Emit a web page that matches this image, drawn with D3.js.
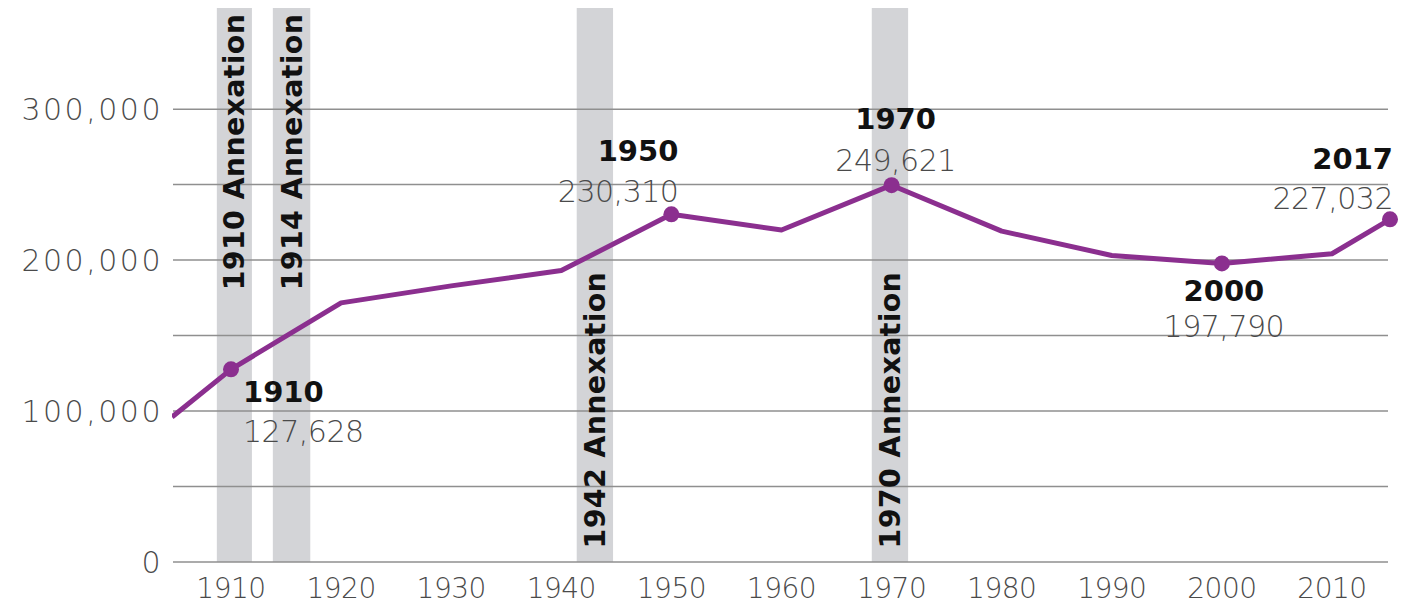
<!DOCTYPE html>
<html>
<head>
<meta charset="utf-8">
<script src="https://cdn.jsdelivr.net/npm/d3@7"></script>
<style>
  html, body { margin: 0; padding: 0; background: #fff; }
  svg { display: block; }
</style>
</head>
<body>
<div id="chart"></div>
<script>
// population by census year (last one is the 2017 estimate)
const years = [1900, 1910, 1920, 1930, 1940, 1950, 1960, 1970, 1980, 1990, 2000, 2010, 2017];
const population = [96000, 127628, 171667, 182929, 193042, 230310, 219958, 249621, 219214, 203056, 197790, 204214, 227032];

// highlighted points
const markedYears = [1910, 1950, 1970, 2000, 2017];

// annexations, shaded band from/to (years)
const annexLabels = ['1910 Annexation', '1914 Annexation', '1942 Annexation', '1970 Annexation'];
const annexFrom = [1907.6, 1913.8, 1941.4, 1968.2];
const annexTo = [1911.9, 1917.2, 1944.7, 1971.5];

const xTicks = [1910, 1920, 1930, 1940, 1950, 1960, 1970, 1980, 1990, 2000, 2010];
const yGrid = [0, 50000, 100000, 150000, 200000, 250000, 300000];
const yLabels = [0, 100000, 200000, 300000];

const width = 1422, height = 609;
const purple = '#8b2f8f';
const fmt = d3.format(',');

const svg = d3.select('#chart').append('svg')
  .attr('width', width)
  .attr('height', height);

// the drawn axis squeezes the first decade and the last 7 years
const x = d3.scaleLinear()
  .domain([1900, 1910, 2010, 2017])
  .range([172, 231, 1332, 1390]);

const y = d3.scaleLinear()
  .domain([0, 367000])
  .range([562, 8]);

const data = years.map((yr, i) => ({ year: yr, value: population[i] }));

// annexation bands
svg.append('g')
  .selectAll('rect')
  .data(annexLabels)
  .enter()
  .append('rect')
  .attr('x', (d, i) => x(annexFrom[i]))
  .attr('width', (d, i) => x(annexTo[i]) - x(annexFrom[i]))
  .attr('y', y(367000))
  .attr('height', y(0) - y(367000))
  .attr('fill', '#d3d4d7');

// gridlines
svg.append('g')
  .selectAll('line')
  .data(yGrid)
  .enter()
  .append('line')
  .attr('x1', 173)
  .attr('x2', 1388)
  .attr('y1', (d) => y(d))
  .attr('y2', (d) => y(d))
  .attr('stroke', '#8f8f8f')
  .attr('stroke-width', 1.5);

// y labels
svg.append('g')
  .selectAll('text')
  .data(yLabels)
  .enter()
  .append('text')
  .attr('x', 163)
  .attr('y', (d) => y(d))
  .attr('dy', '0.36em')
  .attr('text-anchor', 'end')
  .attr('font-family', 'DejaVu Sans')
  .attr('font-weight', 200)
  .attr('font-size', 30)
  .attr('letter-spacing', 2.5)
  .attr('fill', '#4a4a4a')
  .text((d) => fmt(d));

// x labels
svg.append('g')
  .selectAll('text')
  .data(xTicks)
  .enter()
  .append('text')
  .attr('x', (d) => x(d))
  .attr('y', 598)
  .attr('text-anchor', 'middle')
  .attr('font-family', 'DejaVu Sans')
  .attr('font-weight', 200)
  .attr('font-size', 28)
  .attr('letter-spacing', -0.5)
  .attr('fill', '#4a4a4a')
  .text((d) => d);

// rotated annexation labels
const labelBase = [180000, 180000, 9000, 9000];
svg.append('g')
  .selectAll('text')
  .data(annexLabels)
  .enter()
  .append('text')
  .attr('transform', (d, i) => {
    const cx = (x(annexFrom[i]) + x(annexTo[i])) / 2 + 10;
    return `translate(${cx},${y(labelBase[i])}) rotate(-90)`;
  })
  .attr('font-family', 'DejaVu Sans')
  .attr('font-weight', 'bold')
  .attr('font-size', 28.5)
  .attr('letter-spacing', 0.3)
  .attr('fill', '#111')
  .text((d) => d);

// clip so the 1900 segment stays in the plot
svg.append('clipPath')
  .attr('id', 'plot-clip')
  .append('rect')
  .attr('x', 172)
  .attr('y', 0)
  .attr('width', width - 172)
  .attr('height', height);

const line = d3.line()
  .x((d) => x(d.year))
  .y((d) => y(d.value));

svg.append('path')
  .datum(data)
  .attr('clip-path', 'url(#plot-clip)')
  .attr('fill', 'none')
  .attr('stroke', purple)
  .attr('stroke-width', 5)
  .attr('stroke-linejoin', 'round')
  .attr('d', line);

const marked = data.filter((d) => markedYears.includes(d.year));

svg.append('g')
  .selectAll('circle')
  .data(marked)
  .enter()
  .append('circle')
  .attr('cx', (d) => x(d.year))
  .attr('cy', (d) => y(d.value))
  .attr('r', 8)
  .attr('fill', purple);

// year / value callouts
const callout = {
  1910: { dx: 12, dyYear: 33, dyVal: 73, anchor: 'start' },
  1950: { dx: 7, dyYear: -53, dyVal: -12, anchor: 'end' },
  1970: { dx: 4, dyYear: -56, dyVal: -14, anchor: 'middle' },
  2000: { dx: 2, dyYear: 38, dyVal: 74, anchor: 'middle' },
  2017: { dx: 3, dyYear: -50, dyVal: -10, anchor: 'end' },
};

const notes = svg.append('g')
  .selectAll('g')
  .data(marked)
  .enter()
  .append('g');

notes.append('text')
  .attr('x', (d) => x(d.year) + callout[d.year].dx)
  .attr('y', (d) => y(d.value) + callout[d.year].dyYear)
  .attr('text-anchor', (d) => callout[d.year].anchor)
  .attr('font-family', 'DejaVu Sans')
  .attr('font-weight', 'bold')
  .attr('font-size', 29)
  .attr('fill', '#111')
  .text((d) => d.year);

notes.append('text')
  .attr('x', (d) => x(d.year) + callout[d.year].dx)
  .attr('y', (d) => y(d.value) + callout[d.year].dyVal)
  .attr('text-anchor', (d) => callout[d.year].anchor)
  .attr('font-family', 'DejaVu Sans')
  .attr('font-weight', 200)
  .attr('font-size', 30)
  .attr('letter-spacing', -0.5)
  .attr('fill', '#4a4a4a')
  .text((d) => fmt(d.value));
</script>
</body>
</html>
